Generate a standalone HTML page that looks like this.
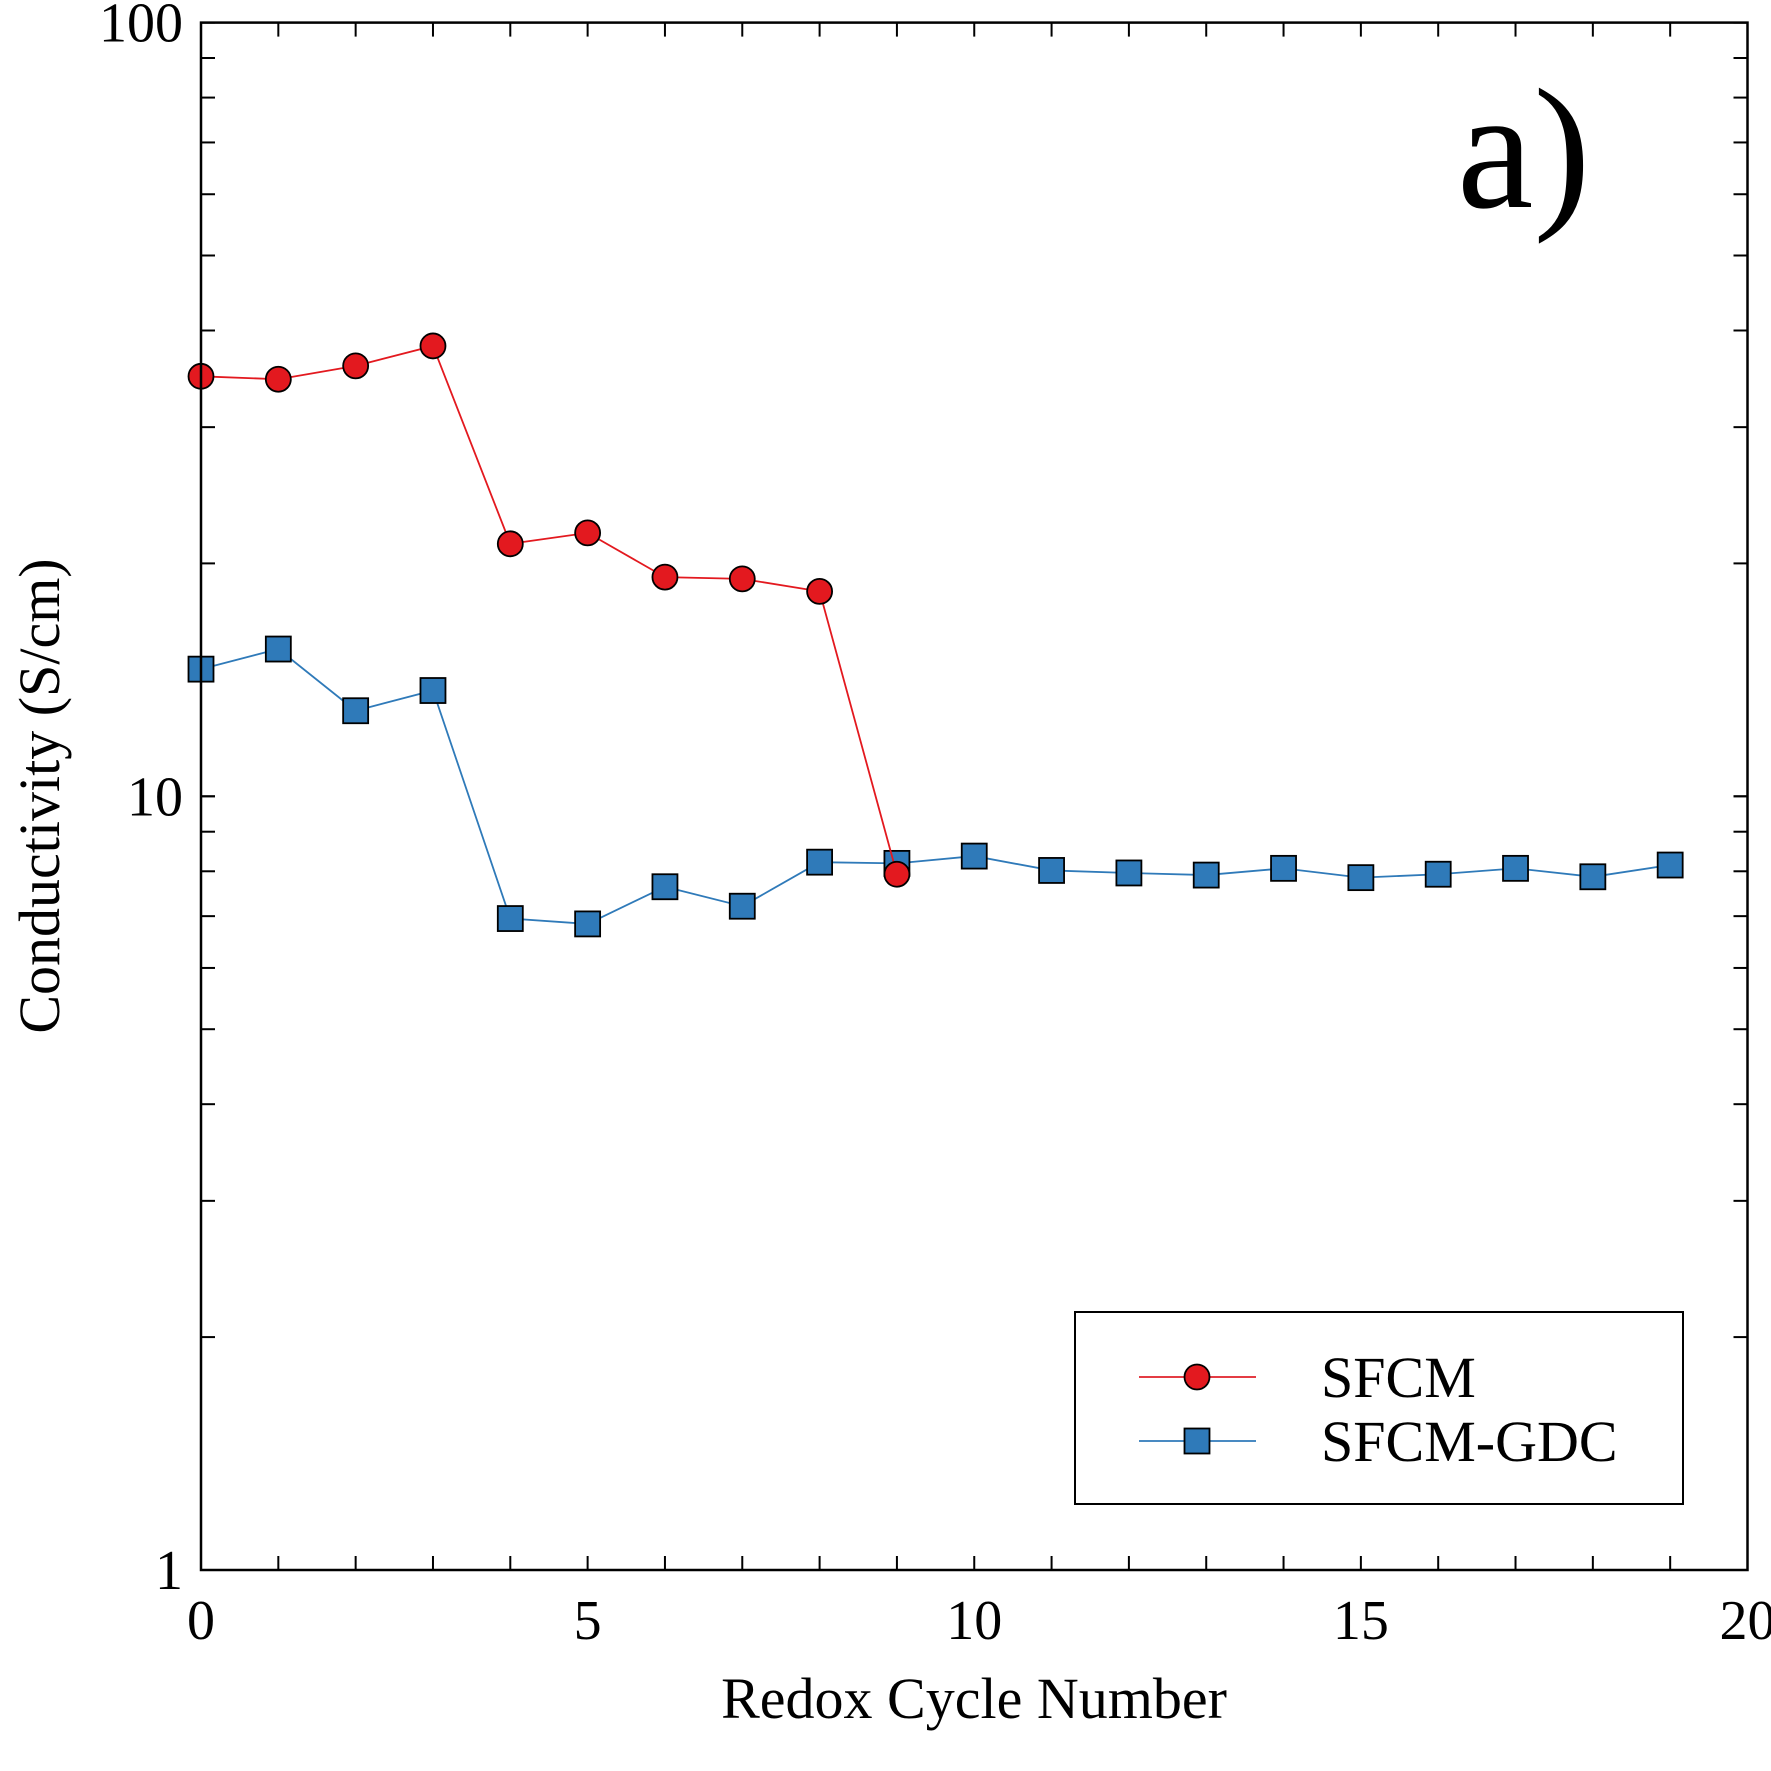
<!DOCTYPE html>
<html><head><meta charset="utf-8"><style>
body{margin:0;background:#fff}
svg{display:block;font-family:"Liberation Serif",serif}
</style></head><body>
<svg id="chart" width="1771" height="1771" viewBox="0 0 1771 1771">
<rect width="1771" height="1771" fill="#fff"/>
<g id="ticks"></g>
<g id="series"></g>
<rect x="201" y="22.6" width="1546.5" height="1547.4" fill="none" stroke="#000" stroke-width="2.5"/>
<text x="1457" y="207" font-size="172">a)</text>
<text x="974" y="1718" font-size="58" text-anchor="middle">Redox Cycle Number</text>
<text transform="translate(59,796) rotate(-90)" font-size="58" text-anchor="middle">Conductivity (S/cm)</text>
<g>
<rect x="1075" y="1312" width="608" height="192" fill="#fff" stroke="#000" stroke-width="2"/>
<g>
<line x1="1139" y1="1377" x2="1256" y2="1377" stroke="#e0202a" stroke-width="1.8"/>
<circle cx="1197" cy="1377" r="12.5" fill="#e3191f" stroke="#000" stroke-width="1.8"/>
<text x="1321" y="1397" font-size="58">SFCM</text>
</g>
<g>
<line x1="1139" y1="1441" x2="1256" y2="1441" stroke="#2f7ab9" stroke-width="1.8"/>
<rect x="1184.5" y="1428.5" width="25" height="25" fill="#2f7ab9" stroke="#000" stroke-width="1.8"/>
<text x="1321" y="1461" font-size="58">SFCM-GDC</text>
</g>
</g>
</svg>
<script>
const cycles=[0,1,2,3,4,5,6,7,8,9,10,11,12,13,14,15,16,17,18,19];
const sfcm=[34.9,34.6,36.0,38.2,21.2,21.9,19.2,19.1,18.4,7.93];
const sfcmGdc=[14.6,15.5,12.9,13.7,6.95,6.84,7.64,7.21,8.22,8.19,8.37,8.02,7.96,7.91,8.07,7.85,7.93,8.07,7.87,8.15];
const xTickLabels=["0","5","10","15","20"];
const yTickLabels=["1","10","100"];
const L=201,R=1747.5,T=22.6,B=1570;
const xs=v=>L+(v/20)*(R-L);
const ys=v=>B-(Math.log10(v))/2*(B-T);
const NS="http://www.w3.org/2000/svg";
function mk(t,a,p){const e=document.createElementNS(NS,t);for(const k in a)e.setAttribute(k,a[k]);p.appendChild(e);return e;}
const tk=document.getElementById('ticks');
for(let i=0;i<=20;i++){const x=xs(i);
 mk('line',{x1:x,y1:B,x2:x,y2:B-14,stroke:'#000','stroke-width':2},tk);
 mk('line',{x1:x,y1:T,x2:x,y2:T+14,stroke:'#000','stroke-width':2},tk);}
xTickLabels.forEach(s=>{const t=mk('text',{x:xs(+s),y:1639,'font-size':56,'text-anchor':'middle'},tk);t.textContent=s;
 
 });
for(let d=0;d<2;d++)for(let m=1;m<=10;m++){const v=m*Math.pow(10,d);const y=ys(v);
 mk('line',{x1:L,y1:y,x2:L+14,y2:y,stroke:'#000','stroke-width':2},tk);
 mk('line',{x1:R,y1:y,x2:R-14,y2:y,stroke:'#000','stroke-width':2},tk);}
yTickLabels.forEach(s=>{const t=mk('text',{x:183,y:ys(+s)+19,'font-size':56,'text-anchor':'end'},tk);t.textContent=s;
 
 });
const sg=document.getElementById('series');
function series(vals,color,shape,name){
 const g=mk('g',{},sg);
 
 
 mk('polyline',{points:vals.map((v,i)=>xs(cycles[i])+','+ys(v)).join(' '),fill:'none',stroke:color,'stroke-width':1.8},g);
 vals.forEach((v,i)=>{const x=xs(cycles[i]),y=ys(v);let e;
  if(shape==='c')e=mk('circle',{cx:x,cy:y,r:12.5,fill:color,stroke:'#000','stroke-width':1.8},g);
  else e=mk('rect',{x:x-12.5,y:y-12.5,width:25,height:25,fill:color,stroke:'#000','stroke-width':1.8},g);
  
  });
}
series(sfcmGdc,'#2f7ab9','s','series-sfcm-gdc');
series(sfcm,'#e3191f','c','series-sfcm');
</script>
</body></html>
